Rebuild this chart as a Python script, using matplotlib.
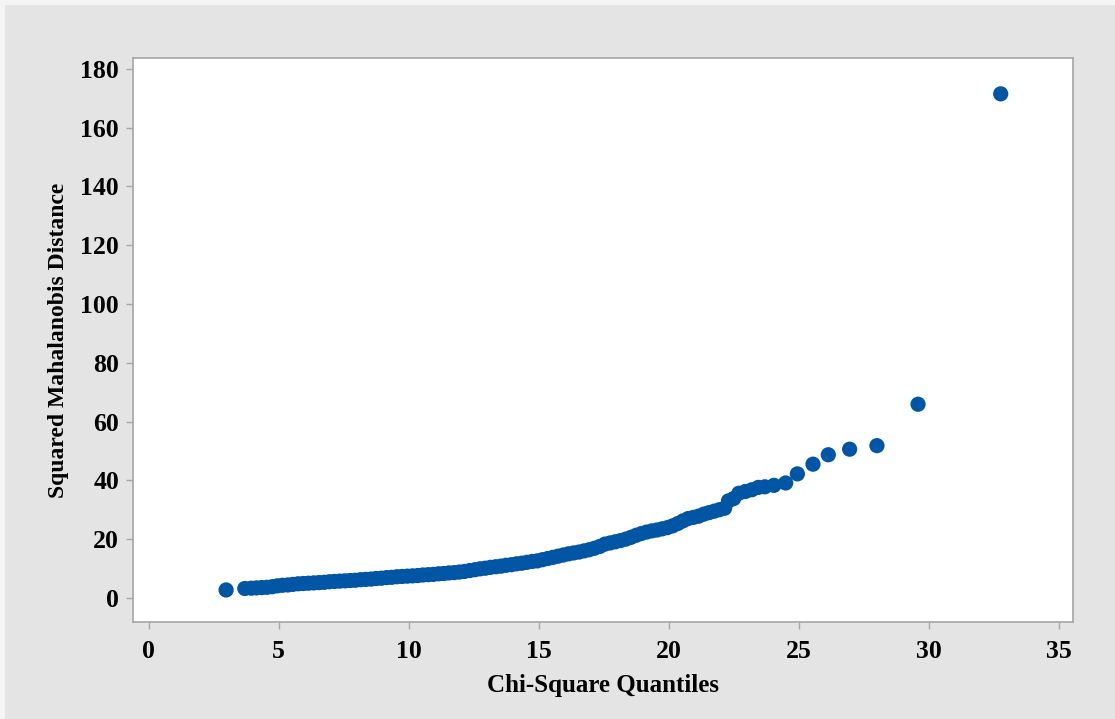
import matplotlib.pyplot as plt
from matplotlib.patches import Rectangle

# chi-square quantiles vs squared Mahalanobis distances
chi_quantiles = [
    2.98, 3.70, 3.95, 4.15, 4.35, 4.55, 4.75, 4.95, 5.15, 5.35,
    5.55, 5.75, 5.95, 6.15, 6.35, 6.55, 6.75, 6.95, 7.15, 7.35,
    7.55, 7.75, 7.95, 8.15, 8.35, 8.55, 8.75, 8.95, 9.15, 9.35,
    9.55, 9.75, 9.95, 10.15, 10.35, 10.55, 10.75, 10.95, 11.15, 11.35,
    11.55, 11.75, 11.95, 12.15, 12.35, 12.55, 12.75, 12.95, 13.15, 13.35,
    13.55, 13.75, 13.95, 14.15, 14.35, 14.55, 14.75, 14.95, 15.15, 15.35,
    15.55, 15.75, 15.95, 16.15, 16.35, 16.55, 16.75, 16.95, 17.15, 17.35,
    17.55, 17.75, 17.95, 18.15, 18.35, 18.55, 18.75, 18.95, 19.15, 19.35,
    19.55, 19.75, 19.95, 20.15, 20.35, 20.55, 20.75, 20.95, 21.15, 21.35,
    21.55, 21.75, 21.95, 22.15, 22.30, 22.50, 22.70, 22.95, 23.20, 23.45,
    23.70, 24.05, 24.50, 24.95, 25.55, 26.14, 26.96, 28.01, 29.59, 32.77,
]
mahal_d2 = [
    2.7, 3.2, 3.3, 3.4, 3.5, 3.6, 3.8, 4.1, 4.3, 4.4,
    4.6, 4.8, 4.9, 5.0, 5.1, 5.2, 5.3, 5.5, 5.6, 5.7,
    5.8, 5.9, 6.0, 6.2, 6.3, 6.4, 6.6, 6.7, 6.9, 7.0,
    7.2, 7.3, 7.4, 7.5, 7.6, 7.8, 7.9, 8.0, 8.2, 8.3,
    8.5, 8.6, 8.8, 9.0, 9.3, 9.6, 9.9, 10.1, 10.4, 10.6,
    10.8, 11.1, 11.3, 11.6, 11.8, 12.1, 12.4, 12.6, 13.0, 13.4,
    13.8, 14.2, 14.6, 15.0, 15.3, 15.6, 16.0, 16.4, 16.9, 17.5,
    18.3, 18.7, 19.1, 19.5, 20.0, 20.6, 21.3, 21.9, 22.4, 22.8,
    23.1, 23.5, 23.9, 24.5, 25.3, 26.2, 27.0, 27.4, 27.8, 28.5,
    29.0, 29.5, 30.0, 30.5, 33.0, 33.8, 35.6, 36.2, 36.8, 37.6,
    37.8, 38.3, 39.1, 42.2, 45.5, 48.7, 50.6, 51.8, 65.9, 171.5,
]
x_ticks = [0, 5, 10, 15, 20, 25, 30, 35]
y_ticks = [0, 20, 40, 60, 80, 100, 120, 140, 160, 180]

plt.rcParams['font.family'] = ['Liberation Serif', 'DejaVu Serif']
plt.rcParams['font.weight'] = 'bold'

fig = plt.figure(figsize=(11.15, 7.19), dpi=100, facecolor='#f4f4f4')
fig.patches.append(Rectangle((5 / 1115, 0), 1, 714 / 719, transform=fig.transFigure,
                             facecolor='#e4e4e4', edgecolor='none', zorder=-1))

ax = fig.add_axes([133 / 1115, 97 / 719, 940 / 1115, 564 / 719])
ax.set_facecolor('white')
ax.scatter(chi_quantiles, mahal_d2, s=120, color='#0055a5', edgecolors='none', zorder=3)

ax.set_xlim(-0.6, 35.55)
ax.set_ylim(-8.2, 183.7)
ax.set_xticks(x_ticks)
ax.set_yticks(y_ticks)

for sp in ax.spines.values():
    sp.set_color('#a6a6a6')
    sp.set_linewidth(1.2)
ax.tick_params(axis='both', colors='#a6a6a6', labelcolor='black', length=5,
               width=1, labelsize=18.5, pad=5)
ax.tick_params(axis='x', pad=8)
for lbl in ax.get_xticklabels() + ax.get_yticklabels():
    lbl.set_fontweight('bold')

ax.set_xlabel('Chi-Square Quantiles', fontsize=18, fontweight='bold', labelpad=8)
ax.set_ylabel('Squared Mahalanobis Distance', fontsize=17, fontweight='bold', labelpad=8)

fig.savefig('out.png', dpi=100, facecolor=fig.get_facecolor())
